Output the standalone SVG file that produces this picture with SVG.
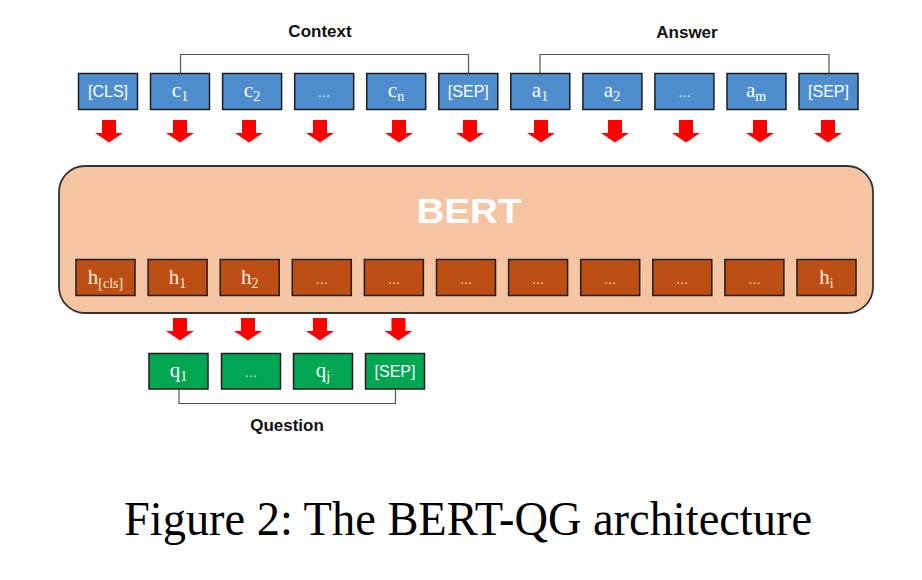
<svg xmlns="http://www.w3.org/2000/svg" xmlns:xlink="http://www.w3.org/1999/xlink" width="922" height="580" viewBox="0 0 922 580">
<style>
.bg{fill:#ffffff}
.tok{fill:#4E8ECF;stroke:#1c1c1c;stroke-width:1.5}
.hid{fill:#BE4F14;stroke:#1c1c1c;stroke-width:1.5}
.qt{fill:#00A651;stroke:#1c1c1c;stroke-width:1.5}
.bert{fill:#F5C5A3;stroke:#333333;stroke-width:1.8}
.sans{font-family:"Liberation Sans",Arial,sans-serif;font-size:16px;fill:#ffffff;text-anchor:middle}
.dots{font-family:"Liberation Sans",Arial,sans-serif;font-size:13px;fill:#ffffff;text-anchor:middle}
.math{font-family:"Liberation Serif","Times New Roman",serif;font-size:21px;fill:#ffffff;text-anchor:middle}
.htxt{fill:#F7EBDD}
.lbl{font-family:"Liberation Sans",Arial,sans-serif;font-size:17px;font-weight:bold;fill:#111111;text-anchor:middle}
.brk{fill:none;stroke:#555555;stroke-width:1.2}
.arr{fill:#FF0000}
.cap{font-family:"Liberation Serif","Times New Roman",serif;font-size:49px;fill:#000000;text-anchor:middle}
</style>
<defs>
<path id="arrow" d="M-7,0 H7 V13 H14 L0,22.5 L-14,13 H-7 Z"/>
</defs>
<rect class="bg" x="0" y="0" width="922" height="580"/>

<g id="bert">
<rect class="bert" x="59" y="166" width="814" height="147" rx="26" ry="26"/>
<text x="469" y="222.5" font-family="'Liberation Sans',Arial,sans-serif" font-weight="bold" font-size="35" fill="#ffffff" text-anchor="middle" textLength="105" lengthAdjust="spacingAndGlyphs">BERT</text>
</g>

<g id="labels">
<text class="lbl" x="320" y="37">Context</text>
<text class="lbl" x="687" y="38">Answer</text>
<text class="lbl" x="287" y="431">Question</text>
</g>

<g id="connectors">
<path class="brk" d="M180.5,73.5 V54.5 H468.5 V73.5"/>
<path class="brk" d="M540,73.5 V54.5 H829 V73.5"/>
<path class="brk" d="M179,389 V403.5 H395.5 V389"/>
<g class="arr">
<use xlink:href="#arrow" x="109" y="120"/>
<use xlink:href="#arrow" x="180" y="120"/>
<use xlink:href="#arrow" x="249" y="120"/>
<use xlink:href="#arrow" x="320" y="120"/>
<use xlink:href="#arrow" x="399" y="120"/>
<use xlink:href="#arrow" x="470" y="120"/>
<use xlink:href="#arrow" x="541" y="120"/>
<use xlink:href="#arrow" x="615" y="120"/>
<use xlink:href="#arrow" x="686" y="120"/>
<use xlink:href="#arrow" x="760" y="120"/>
<use xlink:href="#arrow" x="828" y="120"/>
<use xlink:href="#arrow" x="180" y="318"/>
<use xlink:href="#arrow" x="248" y="318"/>
<use xlink:href="#arrow" x="320" y="318"/>
<use xlink:href="#arrow" x="398.5" y="318"/>
</g>
</g>

<g id="tok-cls"><rect class="tok" x="78.5" y="73.5" width="59" height="36"/><text class="sans" x="108" y="97">[CLS]</text></g>
<g id="tok-c1"><rect class="tok" x="150.5" y="73.5" width="59" height="36"/><text class="math" x="180" y="97">c<tspan dy="4" font-size="14">1</tspan></text></g>
<g id="tok-c2"><rect class="tok" x="222.6" y="73.5" width="59" height="36"/><text class="math" x="252" y="97">c<tspan dy="4" font-size="14">2</tspan></text></g>
<g id="tok-cdots"><rect class="tok" x="294.7" y="73.5" width="59" height="36"/><text class="dots" x="324" y="97">…</text></g>
<g id="tok-cn"><rect class="tok" x="366.7" y="73.5" width="59" height="36"/><text class="math" x="396" y="97">c<tspan dy="4" font-size="14">n</tspan></text></g>
<g id="tok-sep1"><rect class="tok" x="438.8" y="73.5" width="59" height="36"/><text class="sans" x="468.3" y="97">[SEP]</text></g>
<g id="tok-a1"><rect class="tok" x="510.8" y="73.5" width="59" height="36"/><text class="math" x="540" y="97">a<tspan dy="4" font-size="14">1</tspan></text></g>
<g id="tok-a2"><rect class="tok" x="582.9" y="73.5" width="59" height="36"/><text class="math" x="612" y="97">a<tspan dy="4" font-size="14">2</tspan></text></g>
<g id="tok-adots"><rect class="tok" x="654.9" y="73.5" width="59" height="36"/><text class="dots" x="684.4" y="97">…</text></g>
<g id="tok-am"><rect class="tok" x="727" y="73.5" width="59" height="36"/><text class="math" x="756" y="97">a<tspan dy="4" font-size="14">m</tspan></text></g>
<g id="tok-sep2"><rect class="tok" x="799" y="73.5" width="59" height="36"/><text class="sans" x="828.5" y="97">[SEP]</text></g>

<g id="h-cls"><rect class="hid" x="76" y="259.5" width="59" height="36"/><text class="math htxt" x="105.5" y="284">h<tspan dy="4" font-size="14">[cls]</tspan></text></g>
<g id="h-1"><rect class="hid" x="148.1" y="259.5" width="59" height="36"/><text class="math htxt" x="177.6" y="284">h<tspan dy="4" font-size="14">1</tspan></text></g>
<g id="h-2"><rect class="hid" x="220.2" y="259.5" width="59" height="36"/><text class="math htxt" x="249.7" y="284">h<tspan dy="4" font-size="14">2</tspan></text></g>
<g id="h-d1"><rect class="hid" x="292.3" y="259.5" width="59" height="36"/><text class="dots htxt" x="321.8" y="284">…</text></g>
<g id="h-d2"><rect class="hid" x="364.4" y="259.5" width="59" height="36"/><text class="dots htxt" x="393.9" y="284">…</text></g>
<g id="h-d3"><rect class="hid" x="436.5" y="259.5" width="59" height="36"/><text class="dots htxt" x="466" y="284">…</text></g>
<g id="h-d4"><rect class="hid" x="508.6" y="259.5" width="59" height="36"/><text class="dots htxt" x="538.1" y="284">…</text></g>
<g id="h-d5"><rect class="hid" x="580.7" y="259.5" width="59" height="36"/><text class="dots htxt" x="610.2" y="284">…</text></g>
<g id="h-d6"><rect class="hid" x="652.8" y="259.5" width="59" height="36"/><text class="dots htxt" x="682.3" y="284">…</text></g>
<g id="h-d7"><rect class="hid" x="724.9" y="259.5" width="59" height="36"/><text class="dots htxt" x="754.4" y="284">…</text></g>
<g id="h-i"><rect class="hid" x="797" y="259.5" width="59" height="36"/><text class="math htxt" x="826.5" y="284">h<tspan dy="4" font-size="14">i</tspan></text></g>

<g id="q-1"><rect class="qt" x="149" y="353.5" width="59" height="35.5"/><text class="math" x="178.5" y="377">q<tspan dy="4" font-size="14">1</tspan></text></g>
<g id="q-dots"><rect class="qt" x="221.5" y="353.5" width="59" height="35.5"/><text class="dots" x="251" y="377">…</text></g>
<g id="q-j"><rect class="qt" x="293.5" y="353.5" width="59" height="35.5"/><text class="math" x="323" y="377">q<tspan dy="4" font-size="14">j</tspan></text></g>
<g id="q-sep"><rect class="qt" x="365.5" y="353.5" width="59" height="35.5"/><text class="sans" x="395" y="377">[SEP]</text></g>

<text class="cap" x="468" y="535.3" textLength="688" lengthAdjust="spacingAndGlyphs">Figure 2: The BERT-QG architecture</text>
</svg>
